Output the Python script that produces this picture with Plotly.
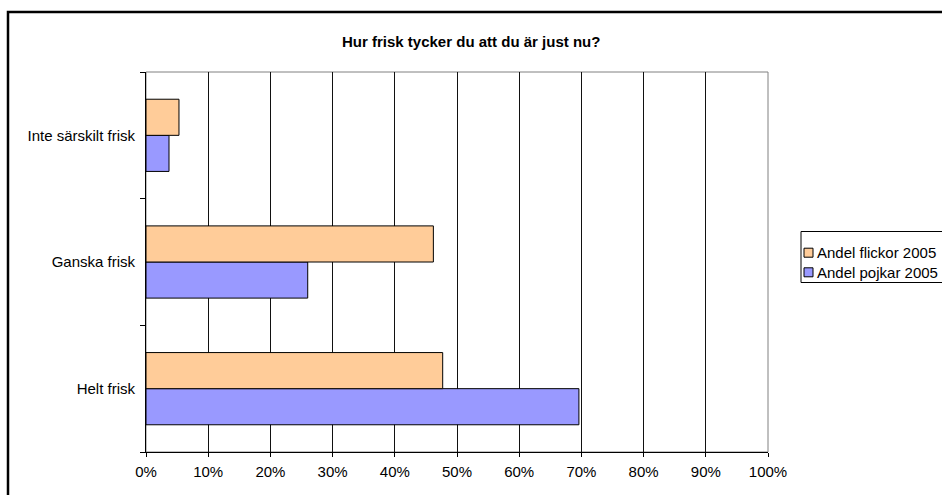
import plotly.graph_objects as go

# ---- data ----
categories = ["Helt frisk", "Ganska frisk", "Inte särskilt frisk"]
series_names = ["Andel flickor 2005", "Andel pojkar 2005"]
flickor = [47.7, 46.2, 5.3]
pojkar = [69.6, 26.0, 3.7]
x_ticks = list(range(0, 101, 10))
x_tick_labels = [f"{v}%" for v in x_ticks]
title_text = "Hur frisk tycker du att du är just nu?"

colors = {"Andel flickor 2005": "#FFCC99", "Andel pojkar 2005": "#9999FF"}

W, H = 942, 495
L, R, T, B = 146, 768, 72, 452
FONT = "Arial, Liberation Sans, sans-serif"
FS = 15


def px(x):
    return (x - L) / (R - L)


def py(y):
    return (B - y) / (B - T)


fig = go.Figure()
fig.add_trace(go.Bar(
    y=categories, x=pojkar, name=series_names[1], orientation="h",
    marker=dict(color=colors[series_names[1]], line=dict(color="#000000", width=1)),
    showlegend=False,
))
fig.add_trace(go.Bar(
    y=categories, x=flickor, name=series_names[0], orientation="h",
    marker=dict(color=colors[series_names[0]], line=dict(color="#000000", width=1)),
    showlegend=False,
))

shapes = [
    # outer chart border
    dict(type="rect", xref="paper", yref="paper",
         x0=px(8), x1=px(990), y0=py(540), y1=py(12),
         line=dict(color="#000000", width=2.5), layer="below"),
    # plot area border (gray)
    dict(type="rect", xref="paper", yref="paper",
         x0=0, x1=1, y0=0, y1=1,
         line=dict(color="#808080", width=1), layer="between"),
    # legend box
    dict(type="rect", xref="paper", yref="paper",
         x0=px(801), x1=px(990), y0=py(282.5), y1=py(231.5),
         line=dict(color="#000000", width=1), fillcolor="#FFFFFF", layer="above"),
]
annotations = [
    dict(text=f"<b>{title_text}</b>", xref="paper", yref="paper",
         x=px(471), y=py(41), xanchor="center", yanchor="middle",
         showarrow=False, font=dict(family=FONT, size=FS, color="#000000")),
]
legend_rows = [252.7, 272.3]
for name, yc in zip(series_names, legend_rows):
    shapes.append(dict(type="rect", xref="paper", yref="paper",
                       x0=px(804), x1=px(813), y0=py(yc + 4.5), y1=py(yc - 4.5),
                       line=dict(color="#000000", width=1),
                       fillcolor=colors[name], layer="above"))
    annotations.append(dict(text=name, xref="paper", yref="paper",
                            x=px(815), y=py(yc), xanchor="left", yanchor="middle",
                            showarrow=False,
                            font=dict(family=FONT, size=FS, color="#000000")))

fig.update_layout(
    width=W, height=H,
    margin=dict(l=L, r=W - R, t=T, b=H - B, pad=0),
    paper_bgcolor="#FFFFFF", plot_bgcolor="#FFFFFF",
    barmode="group", bargap=0.43, bargroupgap=0,
    showlegend=False,
    shapes=shapes, annotations=annotations,
    font=dict(family=FONT, size=FS, color="#000000"),
    xaxis=dict(
        range=[0, 100], tickvals=x_ticks, ticktext=x_tick_labels,
        showgrid=True, gridcolor="#111111", gridwidth=1,
        showline=True, linecolor="#000000", linewidth=1,
        ticks="outside", ticklen=4, tickcolor="#000000",
        ticklabelstandoff=2,
        zeroline=False, fixedrange=True,
        tickfont=dict(family=FONT, size=FS, color="#000000"),
    ),
    yaxis=dict(
        type="category", categoryorder="array", categoryarray=categories,
        tickson="boundaries", ticks="outside", ticklen=5, tickcolor="#000000",
        ticklabelstandoff=7,
        showgrid=False, showline=True, linecolor="#000000", linewidth=1,
        zeroline=False, fixedrange=True,
        tickfont=dict(family=FONT, size=FS, color="#000000"),
    ),
)

fig.write_html(
    "out.html",
    config={"displayModeBar": False},
    post_script="document.body.style.margin='0';document.body.style.overflow='hidden';",
)
